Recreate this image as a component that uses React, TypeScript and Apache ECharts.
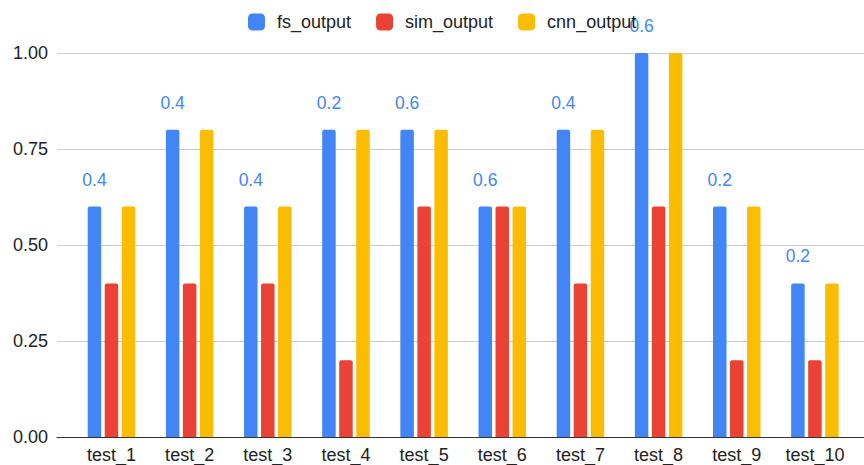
import React, { useEffect, useRef } from "react";
import * as echarts from "echarts";

const categories = ["test_1", "test_2", "test_3", "test_4", "test_5", "test_6", "test_7", "test_8", "test_9", "test_10"];
const fsOutput = [0.6, 0.8, 0.6, 0.8, 0.8, 0.6, 0.8, 1.0, 0.6, 0.4];
const simOutput = [0.4, 0.4, 0.4, 0.2, 0.6, 0.6, 0.4, 0.6, 0.2, 0.2];
const cnnOutput = [0.6, 0.8, 0.6, 0.8, 0.8, 0.6, 0.8, 1.0, 0.6, 0.4];
const fsLabels = ["0.4", "0.4", "0.4", "0.2", "0.6", "0.6", "0.4", "0.6", "0.2", "0.2"];
const yTicks = [0, 0.25, 0.5, 0.75, 1.0];

const FONT = "Arial, 'Liberation Sans', sans-serif";

export default function App() {
  const ref = useRef<HTMLDivElement>(null);
  useEffect(() => {
    const chart = echarts.init(ref.current!, null, { renderer: "svg" });
    const bar = (name: string, data: number[], color: string, extra: any = {}) => ({
      name,
      type: "bar",
      xAxisIndex: 1,
      yAxisIndex: 1,
      data,
      barWidth: 13.5,
      barGap: "26%",
      itemStyle: { color, borderRadius: [2, 2, 0, 0] },
      z: 3,
      ...extra,
    });
    chart.setOption({
      animation: false,
      textStyle: { fontFamily: FONT },
      legend: {
        left: 243,
        top: 8,
        itemWidth: 17,
        itemHeight: 17,
        itemGap: 25,
        icon: "roundRect",
        textStyle: { fontSize: 18, color: "#222", fontFamily: FONT, padding: [0, 0, 0, 7] },
        data: ["fs_output", "sim_output", "cnn_output"],
      },
      grid: [
        { left: 57, right: 0, top: 53, bottom: 28 },
        { left: 72.4, right: 10, top: 53, bottom: 28 },
      ],
      xAxis: [
        {
          gridIndex: 0,
          type: "value",
          min: 0,
          max: 1,
          axisLine: { show: true, lineStyle: { color: "#333", width: 1 } },
          axisTick: { show: false },
          axisLabel: { show: false },
          splitLine: { show: false },
        },
        {
          gridIndex: 1,
          type: "category",
          data: categories,
          axisLine: { show: false },
          axisTick: { show: false },
          axisLabel: { fontSize: 18, color: "#222", margin: 9, fontFamily: FONT },
        },
      ],
      yAxis: [
        {
          gridIndex: 0,
          type: "value",
          min: 0,
          max: 1,
          interval: 0.25,
          axisLine: { show: false },
          axisTick: { show: false },
          axisLabel: {
            fontSize: 18,
            color: "#222",
            margin: 9,
            fontFamily: FONT,
            formatter: (v: number) => (yTicks.includes(v) ? v.toFixed(2) : ""),
          },
          splitLine: { show: true, lineStyle: { color: "#cccccc", width: 1 } },
        },
        {
          gridIndex: 1,
          type: "value",
          min: 0,
          max: 1,
          show: false,
          splitLine: { show: false },
        },
      ],
      series: [
        bar("fs_output", fsOutput, "#4285F4", {
          label: {
            show: true,
            position: "top",
            distance: 18,
            fontSize: 17.5,
            color: "#4285F4",
            fontFamily: FONT,
            formatter: (p: any) => fsLabels[p.dataIndex],
          },
        }),
        bar("sim_output", simOutput, "#EA4335"),
        bar("cnn_output", cnnOutput, "#FBBC04"),
      ],
    });
    return () => chart.dispose();
  }, []);
  return <div ref={ref} style={{ width: 864, height: 465, position: "absolute", left: 0, top: 0 }} />;
}
